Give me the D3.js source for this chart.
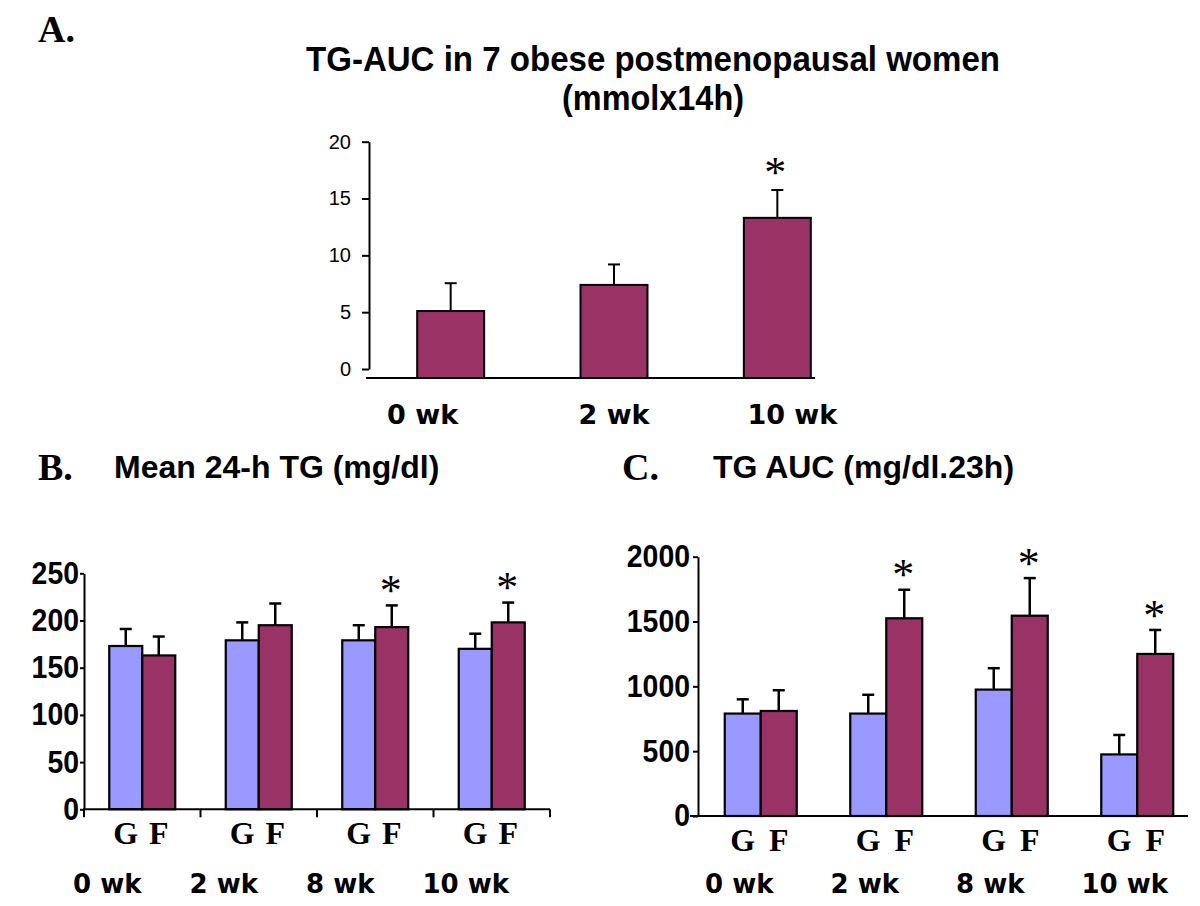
<!DOCTYPE html>
<html>
<head>
<meta charset="utf-8">
<script src="https://cdn.jsdelivr.net/npm/d3@7"></script>
<style>
  html, body { margin: 0; padding: 0; background: #fff; }
  svg { display: block; }
</style>
</head>
<body>
<svg id="chart" width="1200" height="906"></svg>
<script>
// ---------------- DATA ----------------
// Panel A: TG-AUC (mmol x 14h)
const aCats = ["0 wk", "2 wk", "10 wk"];
const aMean = [5.1, 7.4, 13.3];
const aErr  = [2.45, 1.8, 2.45];
const aSig  = [false, false, true];
const aTicks = [0, 5, 10, 15, 20];

// Panels B & C shared categories / groups
const weekCats = ["0 wk", "2 wk", "8 wk", "10 wk"];
const groupKeys = ["G", "F"];

// Panel B: Mean 24-h TG (mg/dl)
const bG    = [173, 179, 179, 170];
const bGerr = [18, 19, 16, 16];
const bF    = [163, 195, 193, 198];
const bFerr = [20, 23, 23, 21];
const bSig  = [false, false, true, true];
const bTicks = [0, 50, 100, 150, 200, 250];

// Panel C: TG AUC (mg/dl.23h)
const cG    = [790, 790, 975, 475];
const cGerr = [110, 145, 165, 150];
const cF    = [810, 1525, 1545, 1250];
const cFerr = [160, 220, 290, 185];
const cSig  = [false, true, true, true];
const cTicks = [0, 500, 1000, 1500, 2000];

// ---------------- STYLE ----------------
const COL_G = "#9999FF";
const COL_F = "#993366";
const SANS = "'Liberation Sans', Arial, sans-serif";
const SERIF = "'Liberation Serif', 'Times New Roman', serif";
const COMIC = "'Comic Sans MS', 'DejaVu Sans', sans-serif";

const svg = d3.select("#chart");

// Panel letters and titles
svg.append("text").attr("x", 38).attr("y", 42).text("A.")
  .attr("font-family", SERIF).attr("font-weight", "bold").attr("font-size", 38);
svg.append("text").attr("x", 38).attr("y", 480).text("B.")
  .attr("font-family", SERIF).attr("font-weight", "bold").attr("font-size", 38);
svg.append("text").attr("x", 622).attr("y", 480).text("C.")
  .attr("font-family", SERIF).attr("font-weight", "bold").attr("font-size", 38);

svg.append("text").attr("x", 653).attr("y", 71).attr("text-anchor", "middle")
  .text("TG-AUC in 7 obese postmenopausal women")
  .attr("textLength", 694).attr("lengthAdjust", "spacingAndGlyphs")
  .attr("font-family", SANS).attr("font-weight", "bold").attr("font-size", 35);
svg.append("text").attr("x", 653).attr("y", 110).attr("text-anchor", "middle")
  .text("(mmolx14h)")
  .attr("textLength", 182).attr("lengthAdjust", "spacingAndGlyphs")
  .attr("font-family", SANS).attr("font-weight", "bold").attr("font-size", 35);
svg.append("text").attr("x", 114).attr("y", 478)
  .text("Mean 24-h TG (mg/dl)")
  .attr("font-family", SANS).attr("font-weight", "bold").attr("font-size", 32);
svg.append("text").attr("x", 713).attr("y", 478)
  .text("TG AUC (mg/dl.23h)")
  .attr("font-family", SANS).attr("font-weight", "bold").attr("font-size", 32);

// star helper
function star(g, x, yCenter, size) {
  g.append("text").attr("x", x).attr("y", yCenter + size * 0.47)
    .attr("text-anchor", "middle").text("*")
    .attr("font-family", SERIF).attr("font-size", size).attr("fill", "#000");
}

// ---------------- PANEL A ----------------
(function () {
  const g = svg.append("g");
  const x = d3.scaleBand().domain(aCats).range([369, 859]);
  const y = d3.scaleLinear().domain([0, 20]).range([369, 141.7]);
  const base = y(0) + 9;
  const bw = x.bandwidth() * 0.41;

  const ax = g.append("g").attr("transform", "translate(369,0)")
    .call(d3.axisLeft(y).tickValues(aTicks).tickSize(7).tickPadding(11).tickSizeOuter(0));
  ax.select(".domain").attr("stroke", "#000").attr("stroke-width", 2);
  ax.selectAll(".tick line").attr("stroke", "#000").attr("stroke-width", 2);
  ax.selectAll(".tick text").attr("font-family", SANS).attr("font-size", 20).attr("fill", "#000");

  // error bars
  aCats.forEach((c, i) => {
    const cx = x(c) + x.bandwidth() / 2;
    g.append("line").attr("x1", cx).attr("x2", cx)
      .attr("y1", y(aMean[i])).attr("y2", y(aMean[i] + aErr[i]))
      .attr("stroke", "#000").attr("stroke-width", 2);
    g.append("line").attr("x1", cx - 6).attr("x2", cx + 6)
      .attr("y1", y(aMean[i] + aErr[i])).attr("y2", y(aMean[i] + aErr[i]))
      .attr("stroke", "#000").attr("stroke-width", 2);
    if (aSig[i]) star(g, cx - 2, y(aMean[i] + aErr[i]) - 24, 44);
  });

  g.selectAll("rect.bar").data(aCats).join("rect").attr("class", "bar")
    .attr("x", c => x(c) + (x.bandwidth() - bw) / 2)
    .attr("width", bw)
    .attr("y", (c, i) => y(aMean[i]))
    .attr("height", (c, i) => base - y(aMean[i]))
    .attr("fill", COL_F).attr("stroke", "#000").attr("stroke-width", 2);

  g.append("line").attr("x1", 366).attr("x2", 815).attr("y1", base).attr("y2", base)
    .attr("stroke", "#000").attr("stroke-width", 2);

  const labelShift = [-28, 0, 15];
  g.selectAll("text.cat").data(aCats).join("text").attr("class", "cat")
    .attr("x", (c, i) => x(c) + x.bandwidth() / 2 + labelShift[i])
    .attr("y", 424).attr("text-anchor", "middle").text(c => c)
    .attr("font-family", COMIC).attr("font-weight", "bold").attr("font-size", 27);
})();

// ---------------- GROUPED PANELS ----------------
function grouped(cfg) {
  const g = svg.append("g");
  const x0 = d3.scaleBand().domain(weekCats).range(cfg.xr);
  const step = x0.bandwidth();
  const x1 = d3.scaleBand().domain(groupKeys)
    .range([step / 2 - cfg.bw, step / 2 + cfg.bw]);
  const y = d3.scaleLinear().domain(cfg.dom).range(cfg.yr);
  const base = y(0);
  const series = { G: { v: cfg.G, e: cfg.Ge, c: COL_G }, F: { v: cfg.F, e: cfg.Fe, c: COL_F } };

  const ax = g.append("g").attr("transform", `translate(${cfg.xr[0]},0)`)
    .call(d3.axisLeft(y).tickValues(cfg.ticks).tickSize(cfg.tickSize)
      .tickPadding(cfg.tickPad).tickSizeOuter(0).tickFormat(d3.format("d")));
  ax.select(".domain").attr("stroke", "#000").attr("stroke-width", 2);
  ax.selectAll(".tick line").attr("stroke", "#000").attr("stroke-width", 2);
  ax.selectAll(".tick text").attr("font-family", SANS).attr("font-weight", "bold")
    .attr("font-size", 31).attr("fill", "#000")
    .attr("textLength", d => String(d).length * 15.8).attr("lengthAdjust", "spacingAndGlyphs");

  // error bars
  weekCats.forEach((c, i) => {
    groupKeys.forEach(k => {
      const s = series[k];
      const cx = x0(c) + x1(k) + x1.bandwidth() / 2;
      const top = y(s.v[i] + s.e[i]);
      g.append("line").attr("x1", cx).attr("x2", cx).attr("y1", y(s.v[i])).attr("y2", top)
        .attr("stroke", "#000").attr("stroke-width", 2.5);
      g.append("line").attr("x1", cx - 6).attr("x2", cx + 6).attr("y1", top).attr("y2", top)
        .attr("stroke", "#000").attr("stroke-width", 2.5);
      if (k === "F" && cfg.sig[i]) star(g, cx - 1, top - 21, 44);
    });
  });

  weekCats.forEach((c, i) => {
    groupKeys.forEach(k => {
      const s = series[k];
      g.append("rect")
        .attr("x", x0(c) + x1(k)).attr("width", x1.bandwidth())
        .attr("y", y(s.v[i])).attr("height", base - y(s.v[i]))
        .attr("fill", s.c).attr("stroke", "#000").attr("stroke-width", 2.2);
      g.append("text").attr("x", x0(c) + x1(k) + x1.bandwidth() / 2)
        .attr("y", base + 35).attr("text-anchor", "middle").text(k)
        .attr("font-family", SERIF).attr("font-weight", "bold").attr("font-size", 32);
    });
    g.append("text").attr("x", x0(c) + cfg.wkShift).attr("y", cfg.wkY)
      .text(c).attr("font-family", COMIC).attr("font-weight", "bold").attr("font-size", 26);
  });

  g.append("line").attr("x1", cfg.baseX[0]).attr("x2", cfg.baseX[1])
    .attr("y1", base).attr("y2", base).attr("stroke", "#000").attr("stroke-width", 2);

  if (cfg.xTicks) {
    const bounds = weekCats.map(c => x0(c)).concat([cfg.xr[1]]);
    g.selectAll("line.xt").data(bounds).join("line").attr("class", "xt")
      .attr("x1", d => d).attr("x2", d => d).attr("y1", base).attr("y2", base + 8)
      .attr("stroke", "#000").attr("stroke-width", 2);
  }
}

grouped({
  xr: [84, 550], bw: 33, dom: [0, 250], yr: [809.3, 573.3], ticks: bTicks,
  G: bG, Ge: bGerr, F: bF, Fe: bFerr, sig: bSig,
  tickSize: 4, tickPad: 1, baseX: [83, 550], xTicks: true, wkShift: -11, wkY: 893
});
grouped({
  xr: [698, 1200], bw: 36, dom: [0, 2000], yr: [816, 556.7], ticks: cTicks,
  G: cG, Ge: cGerr, F: cF, Fe: cFerr, sig: cSig,
  tickSize: 5, tickPad: 3, baseX: [690, 1188], xTicks: false, wkShift: 7, wkY: 893
});
</script>
</body>
</html>
